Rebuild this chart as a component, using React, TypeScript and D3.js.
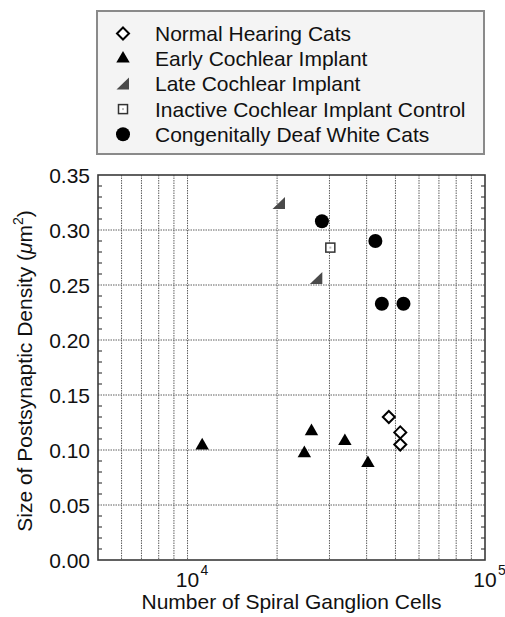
import { useRef, useEffect } from 'react';
import * as d3 from 'd3';

// values
const normalX = [47500, 51900, 51900];
const normalY = [0.13, 0.116, 0.105];
const earlyX = [11200, 26100, 24700, 33800, 40400];
const earlyY = [0.104, 0.117, 0.097, 0.108, 0.088];
const lateX = [20300, 27100];
const lateY = [0.324, 0.256];
const inactiveX = [30200];
const inactiveY = [0.284];
const deafX = [28300, 42800, 45000, 53200];
const deafY = [0.308, 0.29, 0.233, 0.233];

const legendLabels = [
  'Normal Hearing Cats',
  'Early Cochlear Implant',
  'Late Cochlear Implant',
  'Inactive Cochlear Implant Control',
  'Congenitally Deaf White Cats',
];
const markerKinds = ['diamond', 'triangle', 'late', 'square', 'circle'];

const yTicks = [0, 0.05, 0.1, 0.15, 0.2, 0.25, 0.3, 0.35];
const xTickExps = [4, 5];

const FONT = '"Liberation Sans", Arial, sans-serif';

type G = d3.Selection<SVGGElement, unknown, null, undefined>;

function drawMarker(g: G, kind: string, cx: number, cy: number) {
  if (kind === 'diamond') {
    g.append('path')
      .attr('d', 'M0,-6 L6,0 L0,6 L-6,0 Z')
      .attr('transform', `translate(${cx},${cy})`)
      .attr('fill', '#fff')
      .attr('stroke', '#000')
      .attr('stroke-width', 2);
  } else if (kind === 'triangle') {
    g.append('path')
      .attr('d', d3.symbol(d3.symbolTriangle, 78)()!)
      .attr('transform', `translate(${cx},${cy})`)
      .attr('fill', '#000');
  } else if (kind === 'late') {
    g.append('path')
      .attr('d', 'M-6.5,5.5 L6,5.5 L6,-6.5 Z')
      .attr('transform', `translate(${cx},${cy})`)
      .attr('fill', '#4a4a4a');
  } else if (kind === 'square') {
    g.append('rect')
      .attr('x', cx - 4.5)
      .attr('y', cy - 4.5)
      .attr('width', 9)
      .attr('height', 9)
      .attr('fill', '#fff')
      .attr('stroke', '#333')
      .attr('stroke-width', 1.5);
    g.append('rect')
      .attr('x', cx - 1)
      .attr('y', cy - 1)
      .attr('width', 2)
      .attr('height', 2)
      .attr('fill', '#bbb');
  } else {
    g.append('circle').attr('cx', cx).attr('cy', cy).attr('r', 7).attr('fill', '#000');
  }
}

export default function App() {
  const svgRef = useRef<SVGSVGElement>(null);

  useEffect(() => {
    if (!svgRef.current) return;
    const svg = d3.select(svgRef.current);
    svg.selectAll('*').remove();

    const W = 505;
    const H = 617;
    const margin = { top: 175, right: 20, bottom: 57, left: 98 };
    const width = W - margin.left - margin.right;
    const height = H - margin.top - margin.bottom;

    svg.append('rect').attr('width', W).attr('height', H).attr('fill', '#fff');

    // Legend
    const leg = svg.append('g') as unknown as G;
    leg.append('rect')
      .attr('x', 97)
      .attr('y', 11)
      .attr('width', 387)
      .attr('height', 143)
      .attr('fill', '#f4f4f4')
      .attr('stroke', '#8a8a8a')
      .attr('stroke-width', 2);
    legendLabels.forEach((label, i) => {
      const cy = 33.5 + i * 25.2;
      drawMarker(leg, markerKinds[i], 123, cy);
      leg.append('text')
        .attr('x', 155)
        .attr('y', cy + 7.5)
        .attr('font-family', FONT)
        .attr('font-size', '21px')
        .attr('fill', '#111')
        .text(label);
    });

    const g = svg
      .append('g')
      .attr('transform', `translate(${margin.left},${margin.top})`) as unknown as G;

    const x = d3.scaleLog().domain([5000, 100000]).range([0, width]);
    const y = d3.scaleLinear().domain([0, 0.35]).range([height, 0]);

    // Grid lines
    const gridX: number[] = [];
    for (let d = 5000; d < 100000; d += d < 10000 ? 1000 : 10000) {
      if (d > 5000) gridX.push(d);
    }
    g.selectAll('.gx')
      .data(gridX)
      .enter()
      .append('line')
      .attr('x1', (d) => x(d))
      .attr('x2', (d) => x(d))
      .attr('y1', 0)
      .attr('y2', height)
      .attr('stroke', '#5e5e5e')
      .attr('stroke-width', 1)
      .attr('stroke-dasharray', '1.5,1');

    g.selectAll('.gy')
      .data(yTicks.filter((d) => d > 0 && d < 0.35))
      .enter()
      .append('line')
      .attr('x1', 0)
      .attr('x2', width)
      .attr('y1', (d) => y(d))
      .attr('y2', (d) => y(d))
      .attr('stroke', '#5e5e5e')
      .attr('stroke-width', 1)
      .attr('stroke-dasharray', '1.5,1');

    // Minor ticks, inward on left and right
    const minor = d3.range(1, 35).map((i) => i / 100).filter((_, i) => (i + 1) % 5 !== 0);
    g.selectAll('.ml')
      .data(minor)
      .enter()
      .append('line')
      .attr('x1', 0)
      .attr('x2', 4)
      .attr('y1', (d) => y(d))
      .attr('y2', (d) => y(d))
      .attr('stroke', '#444')
      .attr('stroke-width', 1.2);
    g.selectAll('.mr')
      .data(minor)
      .enter()
      .append('line')
      .attr('x1', width - 4)
      .attr('x2', width)
      .attr('y1', (d) => y(d))
      .attr('y2', (d) => y(d))
      .attr('stroke', '#444')
      .attr('stroke-width', 1.2);

    // Frame
    g.append('rect')
      .attr('width', width)
      .attr('height', height)
      .attr('fill', 'none')
      .attr('stroke', '#3a3a3a')
      .attr('stroke-width', 1.6);

    // Y tick labels
    g.selectAll('.yl')
      .data(yTicks)
      .enter()
      .append('text')
      .attr('x', -8)
      .attr('y', (d) => y(d) + 7.5)
      .attr('text-anchor', 'end')
      .attr('font-family', FONT)
      .attr('font-size', '21px')
      .attr('fill', '#111')
      .text((d) => d3.format('.2f')(d));

    // X tick labels: 10 with superscript exponent
    xTickExps.forEach((e) => {
      const px = x(Math.pow(10, e));
      g.append('text')
        .attr('x', px)
        .attr('y', height + 27)
        .attr('text-anchor', 'middle')
        .attr('font-family', FONT)
        .attr('font-size', '21px')
        .attr('fill', '#111')
        .text('10');
      g.append('text')
        .attr('x', px + 13)
        .attr('y', height + 15)
        .attr('font-family', FONT)
        .attr('font-size', '14px')
        .attr('fill', '#111')
        .text(String(e));
    });

    // Axis titles
    svg.append('text')
      .attr('x', margin.left + width / 2)
      .attr('y', 609)
      .attr('text-anchor', 'middle')
      .attr('font-family', FONT)
      .attr('font-size', '21px')
      .attr('fill', '#111')
      .text('Number of Spiral Ganglion Cells');

    const yt = svg.append('text')
      .attr('transform', 'translate(32,371) rotate(-90)')
      .attr('text-anchor', 'middle')
      .attr('font-family', FONT)
      .attr('font-size', '21px')
      .attr('fill', '#111');
    yt.append('tspan').text('Size of Postsynaptic Density (');
    yt.append('tspan').attr('font-style', 'italic').text('μ');
    yt.append('tspan').text('m');
    yt.append('tspan').attr('font-size', '14px').attr('dy', -9).text('2');
    yt.append('tspan').attr('dy', 9).text(')');

    // Data points
    const series: [string, number[], number[]][] = [
      ['late', lateX, lateY],
      ['square', inactiveX, inactiveY],
      ['circle', deafX, deafY],
      ['triangle', earlyX, earlyY],
      ['diamond', normalX, normalY],
    ];
    series.forEach(([kind, xs, ys]) => {
      xs.forEach((v, i) => drawMarker(g, kind, x(v), y(ys[i])));
    });
  }, []);

  return (
    <svg
      ref={svgRef}
      width={505}
      height={617}
      style={{ position: 'absolute', left: 0, top: 0 }}
    />
  );
}
